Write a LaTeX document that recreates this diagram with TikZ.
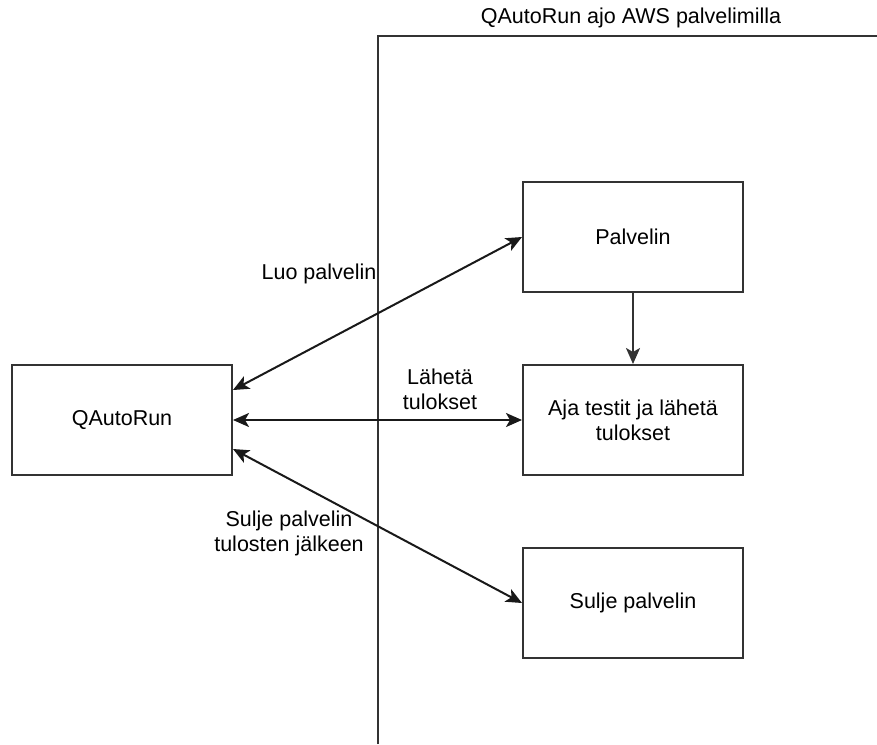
\documentclass[tikz,border=0pt]{standalone}
\usepackage{fontspec}
\setmainfont{Liberation Sans}
\usetikzlibrary{arrows.meta}
\begin{document}
\begin{tikzpicture}[x=1pt,y=-1pt,
  box/.style={draw=black!80,line width=2pt,minimum width=220pt,minimum height=110pt,inner sep=0pt,align=center,font=\fontsize{21.5}{25}\selectfont},
  lbl/.style={align=center,inner sep=0pt,font=\fontsize{21.5}{25}\selectfont},
  con/.style={line width=2pt,black!90,{Stealth[length=16pt,width=14pt,inset=4pt]}-{Stealth[length=16pt,width=14pt,inset=4pt]}},
  one/.style={line width=2pt,black!80,-{Stealth[length=16pt,width=14pt,inset=4pt]}}]
\useasboundingbox (0,0) rectangle (877,744);
% container
\coordinate (cbl) at (378,744);
\coordinate (ctl) at (378,36);
\coordinate (ctr) at (877,36);
\draw[line width=2pt,black!80] (cbl) -- (ctl) -- (ctr);
\node[lbl] (ctitle) at (631,18) {QAutoRun ajo AWS palvelimilla};
% boxes
\node[box] (q) at (122,420) {QAutoRun};
\node[box] (p) at (633,237) {Palvelin};
\node[box] (a) at (633,420) {Aja testit ja lähetä\\tulokset};
\node[box] (s) at (633,603) {Sulje palvelin};
% connectors
\draw[one] (p.south) -- (a.north);
\draw[con] ([yshift=30pt]q.east) -- (p.west);
\draw[con] (q.east) -- (a.west);
\draw[con] ([yshift=-29pt]q.east) -- (s.west);
% labels
\node[lbl] (l1) at (319,274) {Luo palvelin};
\node[lbl] (l2) at (440,389) {Lähetä\\tulokset};
\node[lbl] (l3) at (289,533) {Sulje palvelin\\tulosten jälkeen};
\end{tikzpicture}
\end{document}
